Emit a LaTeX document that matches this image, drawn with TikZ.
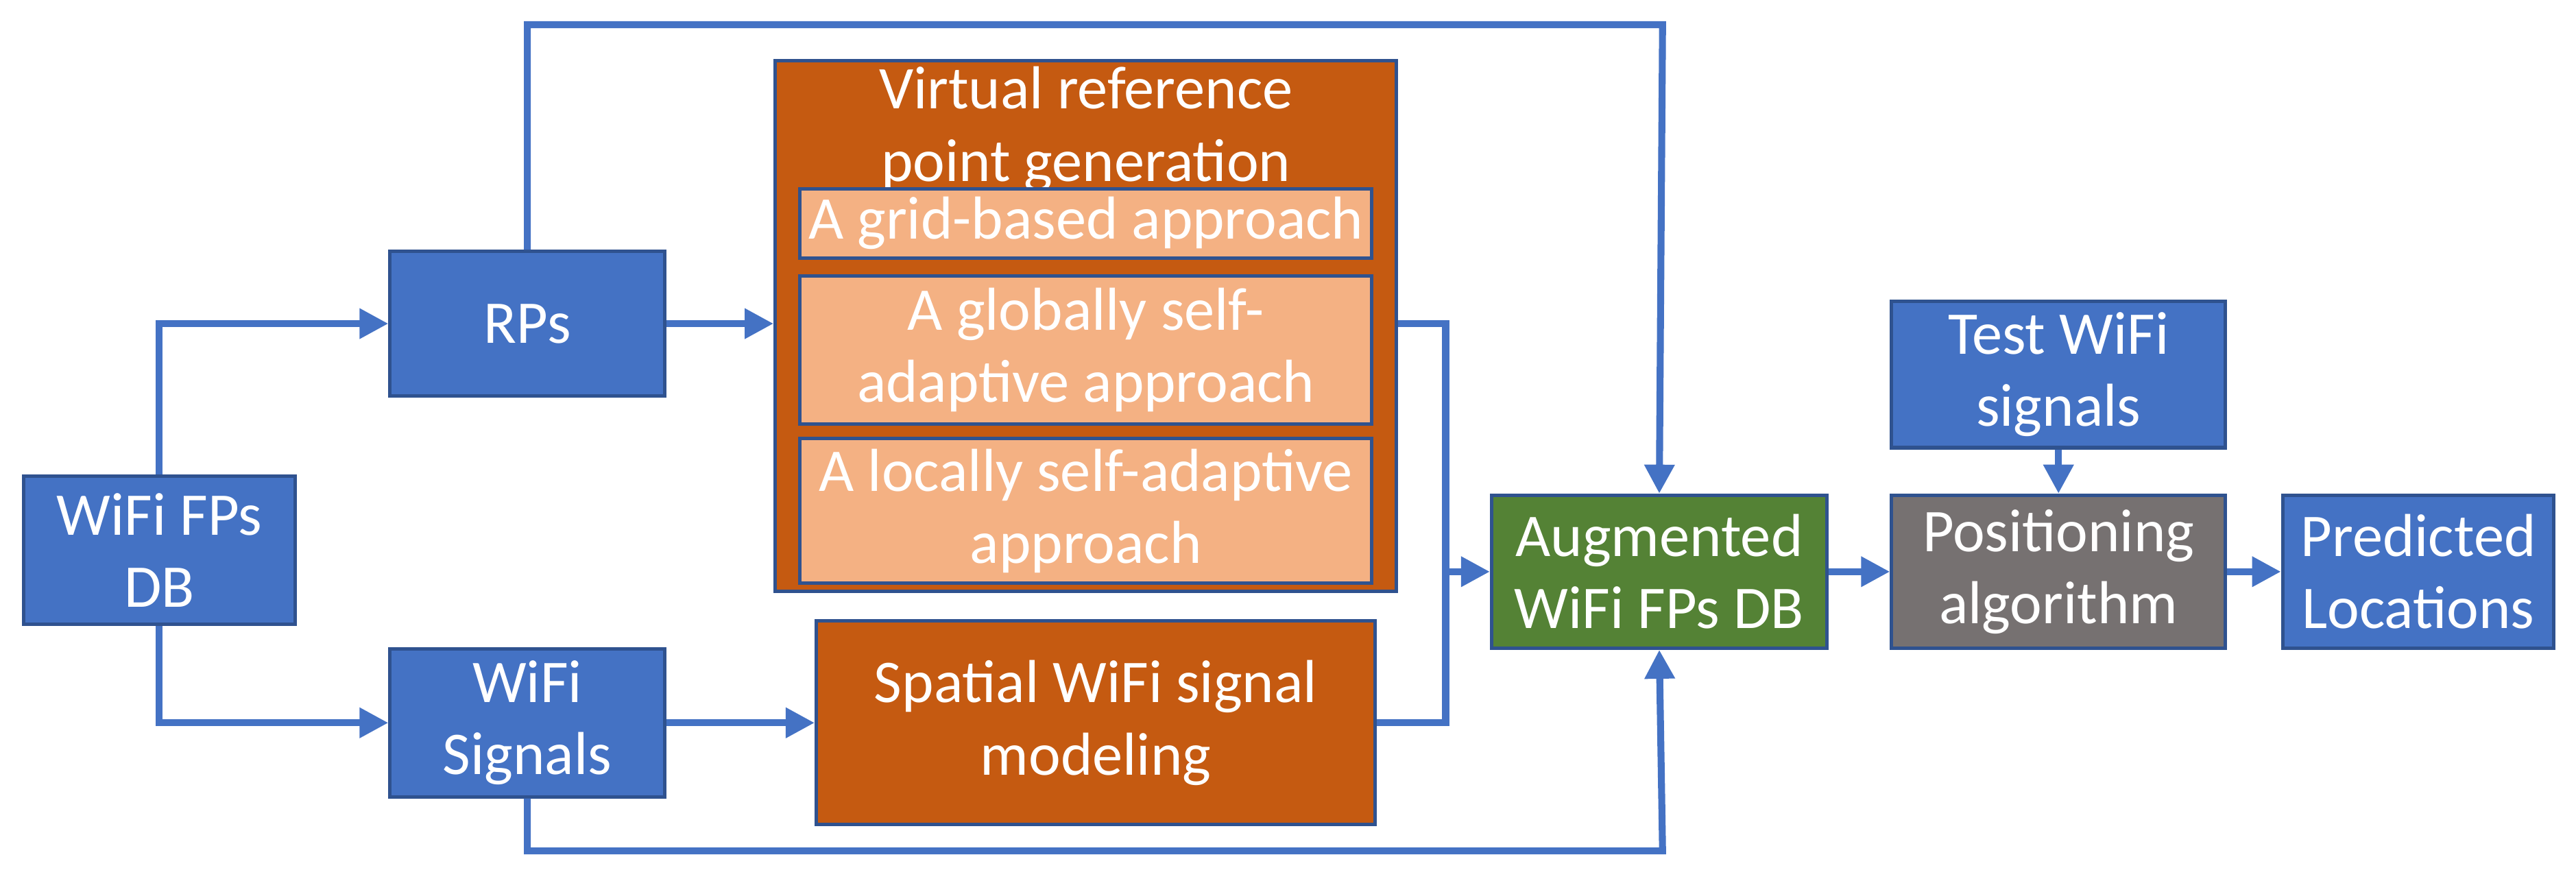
\documentclass[tikz,border=0pt]{standalone}
\usepackage{fontspec}
\setmainfont{Carlito}
\usepackage{tikz}
\usetikzlibrary{arrows.meta}
\definecolor{boxblue}{HTML}{4472C4}
\definecolor{edgeblue}{HTML}{2F528F}
\definecolor{boxorange}{HTML}{C55A11}
\definecolor{lightorange}{HTML}{F4B183}
\definecolor{boxgreen}{HTML}{548235}
\definecolor{boxgrey}{HTML}{767171}
\begin{document}
\begin{tikzpicture}[x=0.01cm, y=-0.01cm,
  every node/.style={font=\fontsize{10.5}{12.5}\selectfont, text=white, align=center, inner sep=0pt},
  blk/.style={draw=edgeblue, line width=0.6pt, fill=#1},
  flow/.style={draw=boxblue, line width=1.2pt, -{Triangle[length=5pt,width=5pt]}},
  link/.style={draw=boxblue, line width=1.2pt}]
\useasboundingbox (0,0) rectangle (1568,536);

\node[blk=boxblue, minimum width=1.65cm, minimum height=0.9cm] (db) at (97,335) {WiFi FPs\\DB};
\node[blk=boxblue, minimum width=1.67cm, minimum height=0.88cm] (rps) at (321,197) {RPs};
\node[blk=boxblue, minimum width=1.67cm, minimum height=0.9cm] (sig) at (321,440) {WiFi\\Signals};
\node[blk=boxorange, minimum width=3.78cm, minimum height=3.23cm] (vrp) at (661,198.5) {};
\node[anchor=north] (vrpt) at (661,40) {Virtual reference\\point generation};
\node[blk=lightorange, minimum width=3.48cm, minimum height=0.42cm] (grid) at (661,136) {A grid-based approach};
\node[blk=lightorange, minimum width=3.48cm, minimum height=0.9cm] (glob) at (661,213) {A globally self-\\adaptive approach};
\node[blk=lightorange, minimum width=3.48cm, minimum height=0.88cm] (loc) at (661,311) {A locally self-adaptive\\approach};
\node[blk=boxorange, minimum width=3.4cm, minimum height=1.24cm] (spat) at (667,440) {Spatial WiFi signal\\modeling};
\node[blk=boxgreen, minimum width=2.04cm, minimum height=0.93cm] (aug) at (1010,348) {Augmented\\WiFi FPs DB};
\node[blk=boxblue, minimum width=2.03cm, minimum height=0.89cm] (test) at (1253,228) {Test WiFi\\signals};
\node[blk=boxgrey, minimum width=2.03cm, minimum height=0.93cm] (pos) at (1253,348) {Positioning\\algorithm};
\node[blk=boxblue, minimum width=1.65cm, minimum height=0.93cm] (pred) at (1472,348) {Predicted\\Locations};

\coordinate (join) at (880,348);

\draw[flow] (db.north) |- (rps.west);
\draw[flow] (db.south) |- (sig.west);
\draw[flow] (rps.east) -- (vrp.west |- rps.east);
\draw[flow] (rps.north) |- (1012,15) -- (aug.north);
\draw[flow] (sig.east) -- (spat.west);
\draw[flow] (sig.south) |- (1012,518) -- (aug.south);
\draw[link] (vrp.east |- rps.east) -| (join);
\draw[link] (spat.east) -| (join);
\draw[flow] (join) -- (aug.west);
\draw[flow] (aug.east) -- (pos.west);
\draw[flow] (test.south) -- (pos.north);
\draw[flow] (pos.east) -- (pred.west);
\end{tikzpicture}
\end{document}
